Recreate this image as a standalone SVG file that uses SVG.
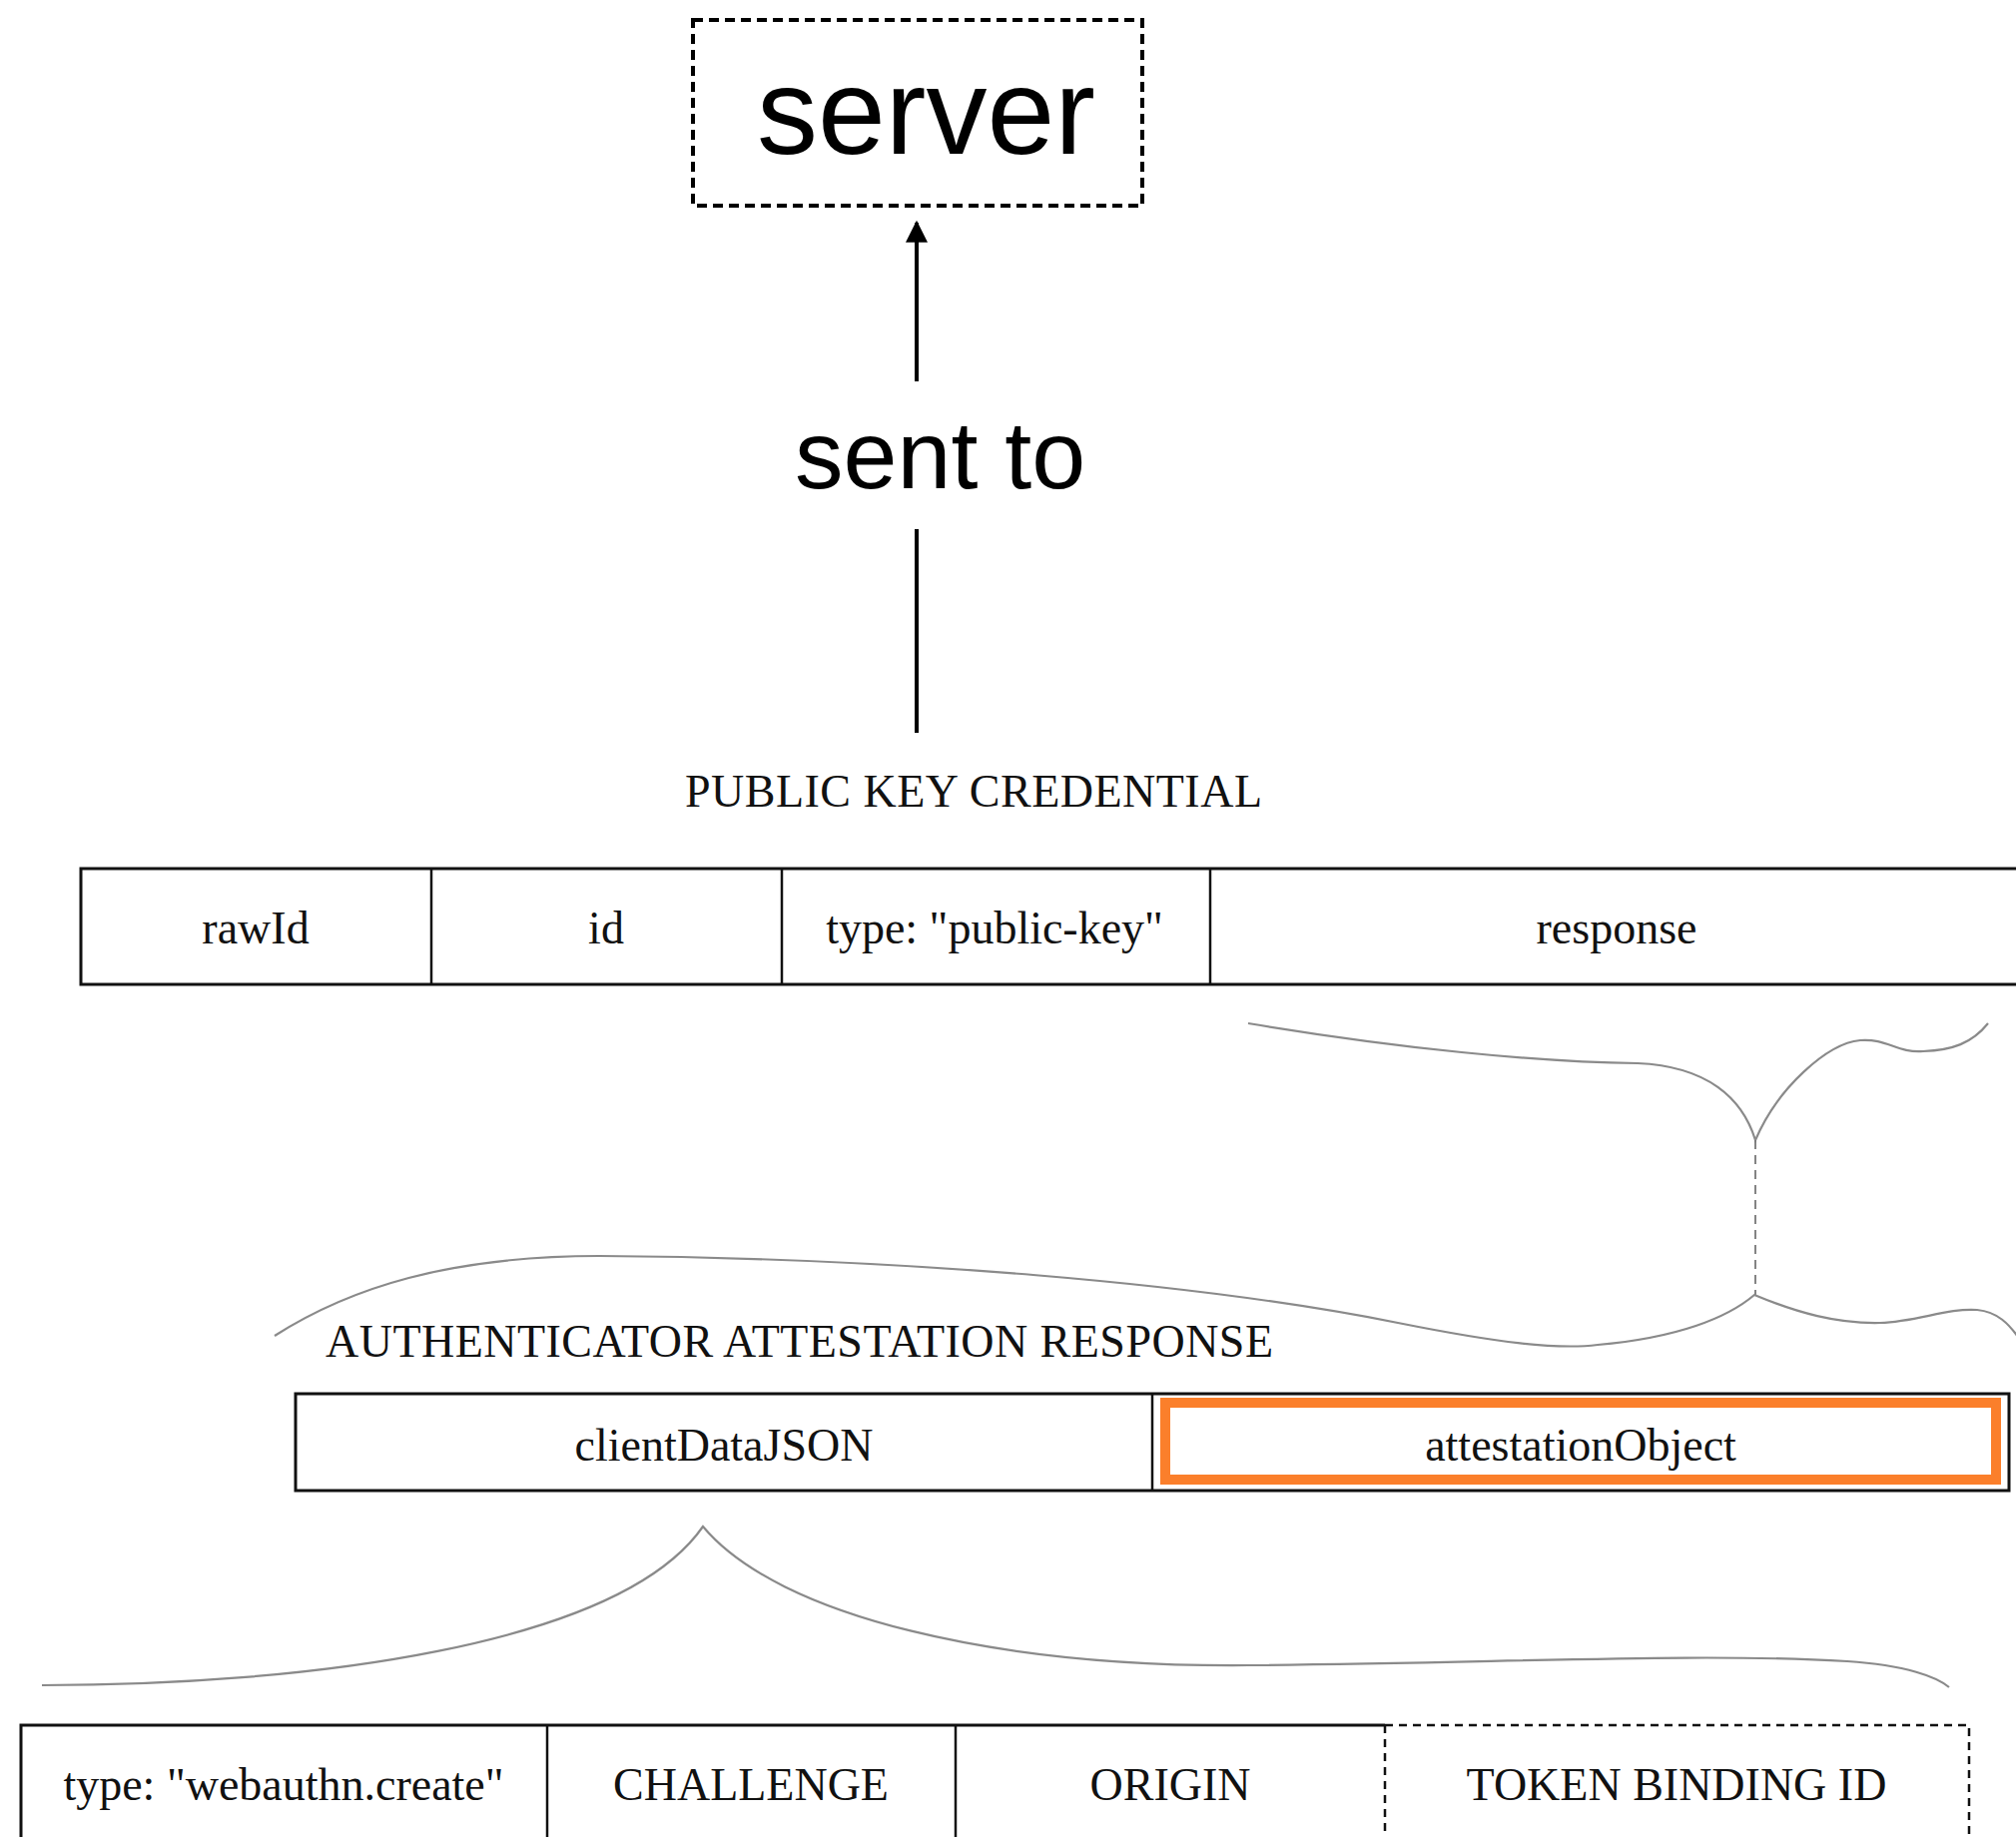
<svg xmlns="http://www.w3.org/2000/svg" width="2019" height="1840" viewBox="0 0 2019 1840">
<style>
.bg{fill:#fff}
.sans{font-family:"Liberation Sans",Arial,sans-serif;fill:#000}
.serif{font-family:"Liberation Serif","Times New Roman",serif;fill:#111;font-size:46px}
.cell{fill:none;stroke:#111;stroke-width:3}
.div{stroke:#111;stroke-width:2.5}
.dash{fill:none;stroke:#111;stroke-width:2.5;stroke-dasharray:8 6}
.brace{fill:none;stroke:#8a8a8a;stroke-width:2.2}
.link{stroke:#000;stroke-width:4}
</style>
<defs>
<marker id="ah" viewBox="0 0 10 10" refX="9" refY="5" markerWidth="6.5" markerHeight="5.5" markerUnits="strokeWidth" orient="auto">
<path d="M0,0 L10,5 L0,10 z" fill="#000"/>
</marker>
</defs>
<rect class="bg" x="0" y="0" width="2019" height="1840"/>

<g id="server">
<rect x="694" y="20" width="450" height="186" fill="none" stroke="#000" stroke-width="4" stroke-dasharray="10 6"/>
<text class="sans" x="758" y="154" font-size="122">server</text>
</g>

<g id="connectors">
<line class="link" x1="918" y1="382" x2="918" y2="223" marker-end="url(#ah)"/>
<line class="link" x1="918" y1="530" x2="918" y2="734"/>
<text class="sans" x="796" y="489" font-size="97">sent to</text>
<path class="brace" d="M1250,1025 C1400,1050 1540,1064 1640,1065 C1710,1068 1745,1100 1758,1142 C1780,1090 1830,1045 1863,1042 C1890,1040 1900,1055 1926,1053 C1955,1052 1975,1045 1991,1025"/>
<line x1="1758" y1="1142" x2="1758" y2="1297" stroke="#777" stroke-width="1.8" stroke-dasharray="9 6"/>
<path class="brace" d="M275,1338 C350,1290 450,1258 600,1258 C900,1260 1200,1285 1400,1325 C1500,1345 1560,1352 1600,1347 C1680,1340 1730,1320 1757,1297 C1800,1315 1840,1326 1883,1325 C1920,1324 1950,1310 1980,1312 C2000,1314 2012,1325 2025,1345"/>
<path class="brace" d="M42,1688 C300,1688 620,1650 704,1529 C780,1620 1000,1670 1250,1668 C1500,1666 1700,1655 1850,1664 C1910,1668 1940,1680 1952,1690"/>
</g>

<g id="public-key-credential">
<text class="serif" x="686" y="808" textLength="578">PUBLIC KEY CREDENTIAL</text>
<rect class="cell" x="81" y="870" width="1960" height="116"/>
<line class="div" x1="432" y1="870" x2="432" y2="986"/>
<line class="div" x1="783" y1="870" x2="783" y2="986"/>
<line class="div" x1="1212" y1="870" x2="1212" y2="986"/>
<text class="serif" x="256" y="945" text-anchor="middle">rawId</text>
<text class="serif" x="607" y="945" text-anchor="middle">id</text>
<text class="serif" x="996" y="945" text-anchor="middle">type: "public-key"</text>
<text class="serif" x="1619" y="945" text-anchor="middle">response</text>
</g>

<g id="authenticator-attestation-response">
<text class="serif" x="326" y="1359" textLength="949">AUTHENTICATOR ATTESTATION RESPONSE</text>
<rect class="cell" x="296" y="1396" width="1716" height="97"/>
<line class="div" x1="1154" y1="1396" x2="1154" y2="1493"/>
<rect x="1167" y="1405" width="832" height="77" fill="none" stroke="#FB7F2B" stroke-width="10"/>
<text class="serif" x="725" y="1463" text-anchor="middle">clientDataJSON</text>
<text class="serif" x="1583" y="1463" text-anchor="middle">attestationObject</text>
</g>

<g id="client-data">
<path class="cell" d="M1387,1728 L21,1728 L21,1860"/>
<line class="div" x1="548" y1="1728" x2="548" y2="1860"/>
<line class="div" x1="957" y1="1728" x2="957" y2="1860"/>
<path class="dash" d="M1387,1728 L1972,1728 L1972,1860"/>
<line class="dash" x1="1387" y1="1728" x2="1387" y2="1860"/>
<text class="serif" x="284" y="1803" text-anchor="middle">type: "webauthn.create"</text>
<text class="serif" x="752" y="1803" text-anchor="middle">CHALLENGE</text>
<text class="serif" x="1172" y="1803" text-anchor="middle">ORIGIN</text>
<text class="serif" x="1679" y="1803" text-anchor="middle">TOKEN BINDING ID</text>
</g>
</svg>
